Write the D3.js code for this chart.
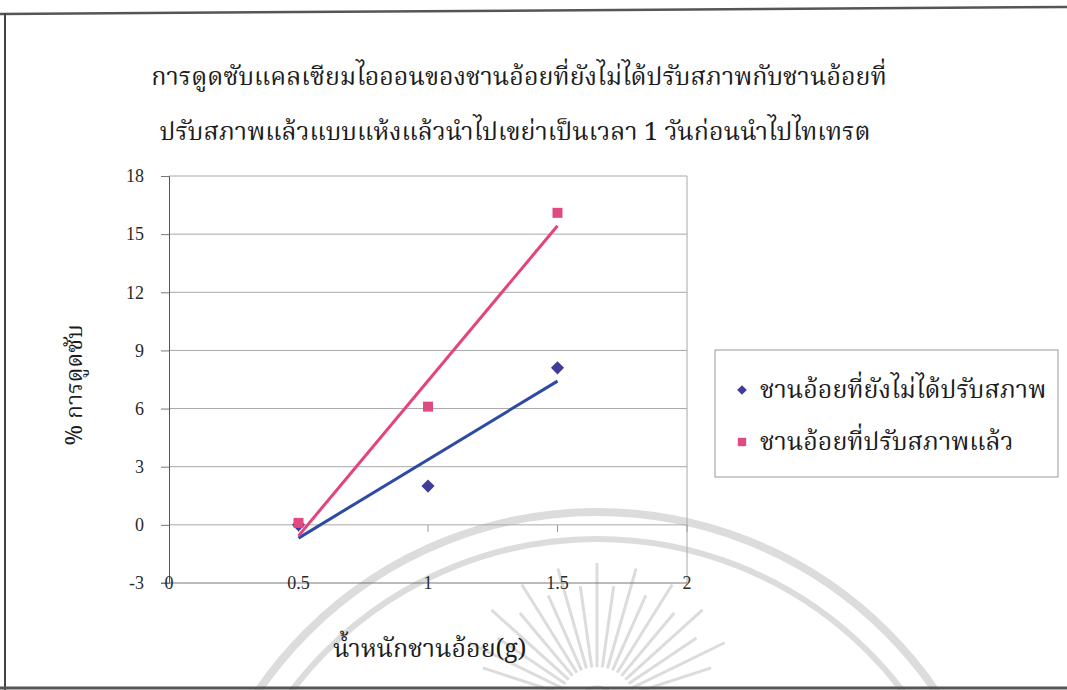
<!DOCTYPE html>
<html>
<head>
<meta charset="utf-8">
<script src="https://cdn.jsdelivr.net/npm/d3@7"></script>
<style>
  html, body { margin: 0; padding: 0; background: #ffffff; }
  svg { display: block; }
  .thai { font-family: "Noto Serif Thai", "Noto Sans Thai", "Tlwg Typo", "Loma", "Liberation Serif", serif; }
  .num { font-family: "Liberation Serif", "DejaVu Serif", serif; }
</style>
</head>
<body>
<script>
// Sugarcane bagasse calcium-ion absorption vs. bagasse weight
const titleLines = [
  "การดูดซับแคลเซียมไอออนของชานอ้อยที่ยังไม่ได้ปรับสภาพกับชานอ้อยที่",
  "ปรับสภาพแล้วแบบแห้งแล้วนำไปเขย่าเป็นเวลา 1 วันก่อนนำไปไทเทรต"
];
const xLabel = "น้ำหนักชานอ้อย(g)";
const yLabel = "% การดูดซับ";
const seriesNames = ["ชานอ้อยที่ยังไม่ได้ปรับสภาพ", "ชานอ้อยที่ปรับสภาพแล้ว"];
const weights = [0.5, 1, 1.5];
const untreatedValues = [0.0, 2.0, 8.1];
const treatedValues = [0.1, 6.1, 16.1];
const xTickValues = [0, 0.5, 1, 1.5, 2];
const yTickValues = [-3, 0, 3, 6, 9, 12, 15, 18];

const W = 1067, H = 690;
const svg = d3.select("body").append("svg").attr("width", W).attr("height", H);
svg.append("rect").attr("width", W).attr("height", H).attr("fill", "#ffffff");

// faint emblem printed behind the chart
const wm = svg.append("g").attr("fill", "none").attr("stroke", "#dcdcdc");
[[410, 8], [383, 6]].forEach(([r, w]) => {
  wm.append("circle").attr("cx", 597).attr("cy", 922).attr("r", r).attr("stroke-width", w);
});
const rayAngles = d3.range(-162, -17, 8);
rayAngles.forEach((a, i) => {
  const t = a * Math.PI / 180;
  const r0 = 38, r1 = 120 + (i % 2) * 22;
  wm.append("line")
    .attr("x1", 597 + r0 * Math.cos(t)).attr("y1", 705 + r0 * Math.sin(t))
    .attr("x2", 597 + r1 * Math.cos(t)).attr("y2", 705 + r1 * Math.sin(t))
    .attr("stroke-width", 3);
});
wm.append("circle").attr("cx", 597).attr("cy", 705).attr("r", 18).attr("stroke-width", 3);

// outer frame
const frame = svg.append("g").attr("fill", "none");
frame.append("line").attr("x1", 0).attr("y1", 14).attr("x2", W).attr("y2", 7)
  .attr("stroke", "#555").attr("stroke-width", 2.5);
frame.append("line").attr("x1", 5).attr("y1", 13).attr("x2", 5).attr("y2", H)
  .attr("stroke", "#444").attr("stroke-width", 2);
frame.append("line").attr("x1", 0).attr("y1", 688).attr("x2", W).attr("y2", 688)
  .attr("stroke", "#555").attr("stroke-width", 3);

// title
svg.append("g").selectAll("text").data(titleLines).join("text")
  .attr("class", "thai")
  .attr("x", (d, i) => i === 0 ? 519 : 515)
  .attr("y", (d, i) => 85 + i * 55)
  .attr("text-anchor", "middle")
  .attr("font-size", 25)
  .attr("fill", "#1c1c1c")
  .text(d => d);

// scales
const x = d3.scaleLinear().domain([0, 2]).range([169, 687]);
const y = d3.scaleLinear().domain([-3, 18]).range([583, 176]);
const fmt = v => d3.format("~g")(v).replace("\u2212", "-");

// horizontal gridlines
svg.append("g").selectAll("line").data(yTickValues.filter(v => v > -3)).join("line")
  .attr("x1", x(0)).attr("x2", x(2))
  .attr("y1", d => y(d)).attr("y2", d => y(d))
  .attr("stroke", "#a8a8a8").attr("stroke-width", 1);
// right edge of plot area
svg.append("line").attr("x1", x(2)).attr("x2", x(2)).attr("y1", y(18)).attr("y2", y(-3))
  .attr("stroke", "#a8a8a8");

// y axis
const yAxis = d3.axisLeft(y).tickValues(yTickValues).tickSize(8).tickPadding(17).tickFormat(fmt);
const gy = svg.append("g").attr("transform", `translate(${x(0)},0)`).call(yAxis);
gy.select(".domain").attr("stroke", "#555");
gy.selectAll(".tick line").attr("stroke", "#777");
gy.selectAll(".tick text").attr("class", "num").attr("font-size", 18).attr("fill", "#2a2a2a");

// x axis: line along the bottom, labels sitting on it
svg.append("line").attr("x1", x(0) - 8).attr("x2", x(2)).attr("y1", y(-3)).attr("y2", y(-3))
  .attr("stroke", "#777");
svg.append("g").selectAll("text").data(xTickValues).join("text")
  .attr("class", "num")
  .attr("x", d => x(d)).attr("y", y(-3) + 6)
  .attr("text-anchor", "middle")
  .attr("font-size", 18).attr("fill", "#2a2a2a")
  .text(fmt);
// tick marks on the zero line
svg.append("g").selectAll("line").data(xTickValues.filter(v => v > 0)).join("line")
  .attr("x1", d => x(d)).attr("x2", d => x(d))
  .attr("y1", y(0)).attr("y2", y(0) + 7)
  .attr("stroke", "#999");

// axis titles
svg.append("text").attr("class", "thai")
  .attr("transform", `translate(82,${385}) rotate(-90)`)
  .attr("text-anchor", "middle").attr("font-size", 23).attr("fill", "#1c1c1c")
  .text(yLabel);
svg.append("text").attr("class", "thai")
  .attr("x", 333).attr("y", 657)
  .attr("font-size", 25).attr("fill", "#1c1c1c")
  .text(xLabel);

// least-squares trend lines
function fit(xs, ys) {
  const mx = d3.mean(xs), my = d3.mean(ys);
  const b = d3.sum(xs, (v, i) => (v - mx) * (ys[i] - my)) / d3.sum(xs, v => (v - mx) ** 2);
  return v => my + b * (v - mx);
}
const series = [
  { name: seriesNames[0], values: untreatedValues, color: "#2f4aa2", marker: "#3f3d99", shape: d3.symbolDiamond2, size: 110 },
  { name: seriesNames[1], values: treatedValues, color: "#e4437c", marker: "#e04a80", shape: d3.symbolSquare, size: 100 }
];
const line = d3.line().x(d => x(d[0])).y(d => y(d[1]));
series.forEach(s => {
  const f = fit(weights, s.values);
  const ends = d3.extent(weights);
  svg.append("path").datum(ends.map(v => [v, f(v)]))
    .attr("d", line).attr("fill", "none")
    .attr("stroke", s.color).attr("stroke-width", 3);
});
series.forEach(s => {
  svg.append("g").selectAll("path").data(weights.map((w, i) => [w, s.values[i]])).join("path")
    .attr("transform", d => `translate(${x(d[0])},${y(d[1])})`)
    .attr("d", d3.symbol().type(s.shape).size(s.size))
    .attr("fill", s.marker);
});

// legend
const lg = svg.append("g");
lg.append("rect").attr("x", 715).attr("y", 350).attr("width", 343).attr("height", 127)
  .attr("fill", "none").attr("stroke", "#9a9a9a");
series.forEach((s, i) => {
  const cy = 390 + i * 52;
  lg.append("path").attr("transform", `translate(742,${cy})`)
    .attr("d", d3.symbol().type(s.shape).size(i === 0 ? 60 : 70)).attr("fill", s.marker);
  lg.append("text").attr("class", "thai").attr("x", 760).attr("y", cy + 8)
    .attr("font-size", 25).attr("fill", "#1c1c1c").text(s.name);
});
</script>
</body>
</html>
